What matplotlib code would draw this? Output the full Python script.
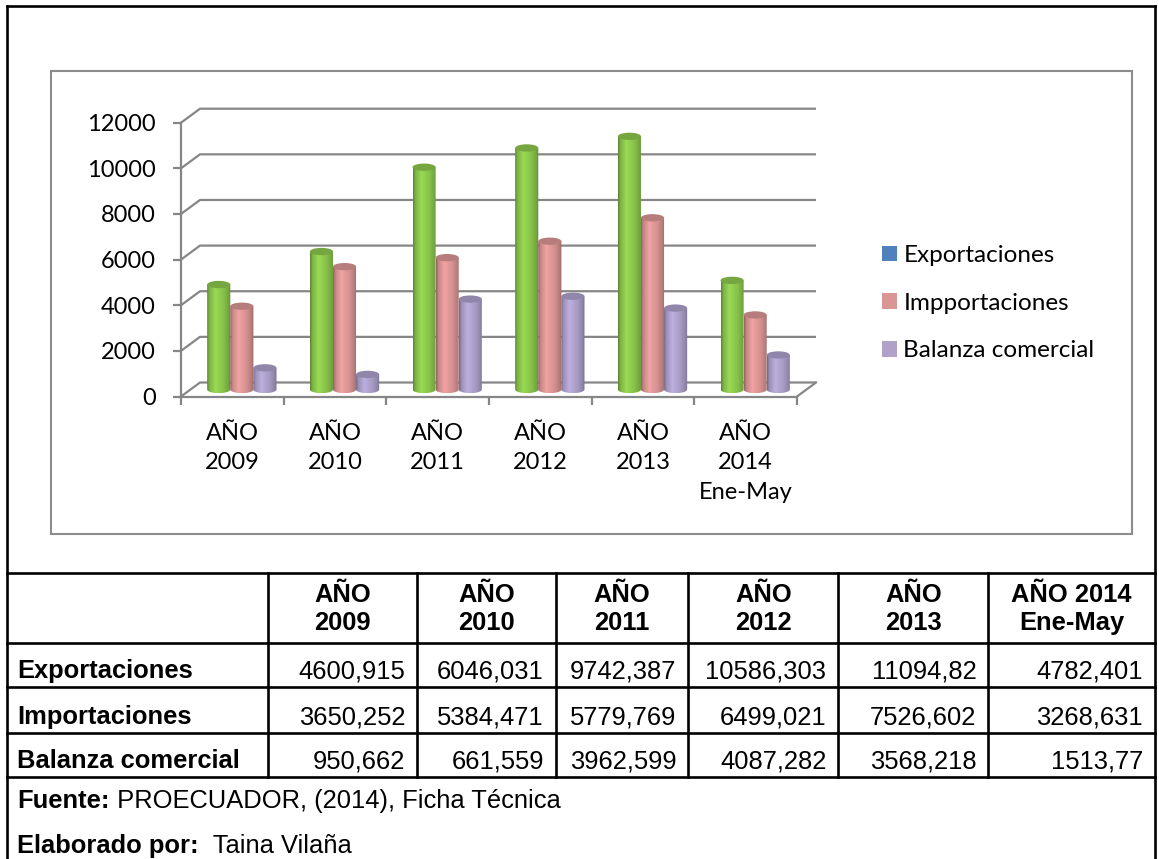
import numpy as np
import matplotlib
matplotlib.use("Agg")
import matplotlib.pyplot as plt
from matplotlib.patches import Ellipse, Rectangle, Patch, Polygon
from matplotlib.colors import to_rgb

# datos (miles de USD)
anios = ["AÑO\n2009", "AÑO\n2010", "AÑO\n2011", "AÑO\n2012", "AÑO\n2013", "AÑO\n2014\nEne-May"]
series = ["Exportaciones", "Impportaciones", "Balanza comercial"]
exportaciones = [4600.915, 6046.031, 9742.387, 10586.303, 11094.82, 4782.401]
importaciones = [3650.252, 5384.471, 5779.769, 6499.021, 7526.602, 3268.631]
balanza = [950.662, 661.559, 3962.599, 4087.282, 3568.218, 1513.77]

cab_sup = ["AÑO", "AÑO", "AÑO", "AÑO", "AÑO", "AÑO 2014"]
cab_inf = ["2009", "2010", "2011", "2012", "2013", "Ene-May"]
filas = ["Exportaciones", "Importaciones", "Balanza comercial"]

color_barra = ["#92D050", "#E59C9B", "#B4A7D4"]
color_leyenda = ["#4F81BD", "#DA9694", "#B1A0C7"]
gris = "#868686"

W, H = 1159, 859
fig = plt.figure(figsize=(W / 100, H / 100), dpi=100)

# lienzo en pixeles para marcos, tabla y pie
page = fig.add_axes([0, 0, 1, 1])
page.set_xlim(0, W)
page.set_ylim(H, 0)
page.axis("off")

# ---- grafico ----
fx0, fx1 = 181, 797      # plano frontal
fy0, fy1 = 396.5, 122.7
ax = fig.add_axes([fx0 / W, 1 - fy0 / H, (fx1 - fx0) / W, (fy0 - fy1) / H])
ax.patch.set_visible(False)

ncat = len(anios)
ymax = 12000
dx = 19 / ((fx1 - fx0) / ncat)          # profundidad en unidades de categoria
dy = 14 / (fy0 - fy1) * ymax            # profundidad en unidades de valor
ticks = np.arange(0, ymax + 1, 2000)

for v in ticks:
    ax.plot([0, dx, ncat + dx], [v, v + dy, v + dy], color=gris, lw=1.6,
            clip_on=False, zorder=1, solid_capstyle="butt")
ax.plot([ncat, ncat + dx], [0, dy], color=gris, lw=1.6, clip_on=False, zorder=1)


def cilindro(xl, w, base, alto, color, z):
    eh = 320
    t = np.linspace(np.pi, 2 * np.pi, 40)
    bx = xl + w / 2 + w / 2 * np.cos(t)
    by = base + eh / 2 * np.sin(t)
    verts = list(zip(bx, by)) + [(xl + w, base + alto), (xl, base + alto)]
    silueta = Polygon(verts, closed=True, transform=ax.transData)
    s = np.linspace(0, 1, 120)
    luz = np.interp(s, [0, 0.1, 0.35, 0.7, 0.92, 1], [0.62, 0.86, 1.05, 0.92, 0.78, 0.64])
    rgb = np.clip(np.array(to_rgb(color))[None, :] * luz[:, None], 0, 1)
    im = ax.imshow(rgb[None, :, :], extent=[xl, xl + w, base - eh / 2, base + alto],
                   aspect="auto", zorder=z, interpolation="bilinear")
    im.set_clip_path(silueta)
    tapa = np.clip(np.array(to_rgb(color)) * 0.8, 0, 1)
    ax.add_patch(Ellipse((xl + w / 2, base + alto), w, eh, facecolor=tapa,
                         edgecolor="none", zorder=z + 0.5))


w = 0.225
valores = [exportaciones, importaciones, balanza]
for i, serie in enumerate(valores):
    for j, v in enumerate(serie):
        xl = j + 0.5 - 1.5 * w + i * w + dx / 2
        cilindro(xl, w, dy / 2, v, color_barra[i], 3 + i)

ax.set_xlim(0, ncat)
ax.set_ylim(0, ymax)
for s in ["top", "right"]:
    ax.spines[s].set_visible(False)
for s in ["left", "bottom"]:
    ax.spines[s].set_color(gris)
    ax.spines[s].set_linewidth(1.6)

ax.set_yticks(ticks)
ax.set_yticklabels([str(v) for v in ticks])
ax.tick_params(axis="y", length=6, width=1.6, color=gris, pad=12,
               labelsize=17, labelfontfamily="Lato")
ax.set_xticks(np.arange(0, ncat + 1))
ax.set_xticklabels([])
ax.set_xticks(np.arange(ncat) + 0.5, minor=True)
ax.set_xticklabels(anios, minor=True, fontfamily="Lato", fontsize=17,
                   linespacing=1.5, va="top")
ax.tick_params(axis="x", which="major", length=6, width=1.6, color=gris)
ax.tick_params(axis="x", which="minor", length=0, pad=19)

fig.legend(handles=[Patch(facecolor=c, edgecolor="none") for c in color_leyenda],
           labels=series, loc="upper left",
           bbox_to_anchor=(881.7 / W, 1 - 245 / H), frameon=False,
           prop={"family": "Lato", "size": 17.5}, handlelength=0.62,
           handleheight=0.62, handletextpad=0.27, labelspacing=1.1,
           borderpad=0, borderaxespad=0)

page.add_patch(Rectangle((51, 71), 1081, 463, fill=False, edgecolor="#8c8c8c", lw=1.5))

# ---- marco y tabla ----
lw = 1.9
page.plot([6.5, 1155], [6, 6], color="black", lw=lw)
page.plot([6.5, 6.5], [6, H], color="black", lw=lw)
page.plot([1155, 1155], [6, H], color="black", lw=lw)

col_x = [6.5, 268.3, 417.3, 556, 688.3, 838.3, 988.3, 1155]
fila_y = [572.7, 642.7, 687, 733.3, 777.3]
for y in fila_y:
    page.plot([6.5, 1155], [y, y], color="black", lw=lw)
for x in col_x[1:-1]:
    page.plot([x, x], [fila_y[0], fila_y[-1]], color="black", lw=lw)

fuente = {"family": "Liberation Sans", "size": 18.4}
for k in range(len(cab_sup)):
    cx = (col_x[k + 1] + col_x[k + 2]) / 2
    page.text(cx, 601.7, cab_sup[k], ha="center", va="baseline", fontweight="bold", **fuente)
    page.text(cx, 630, cab_inf[k], ha="center", va="baseline", fontweight="bold", **fuente)

for r, (nombre, serie) in enumerate(zip(filas, valores)):
    yb = fila_y[r + 2] - 9
    page.text(17, yb, nombre, ha="left", va="baseline", fontweight="bold", **fuente)
    for k, v in enumerate(serie):
        page.text(col_x[k + 2] - 12, yb, f"{v}".replace(".", ","),
                  ha="right", va="baseline", **fuente)

t1 = page.text(17, 808, "Fuente:", ha="left", va="baseline", fontweight="bold", **fuente)
page.annotate(" PROECUADOR, (2014), Ficha Técnica", xy=(1, 0), xycoords=t1,
              ha="left", va="bottom", **fuente)
t2 = page.text(17, 853, "Elaborado por:", ha="left", va="baseline", fontweight="bold", **fuente)
page.annotate("  Taina Vilaña", xy=(1, 0), xycoords=t2, ha="left", va="bottom", **fuente)

fig.savefig("out.png", dpi=100)
